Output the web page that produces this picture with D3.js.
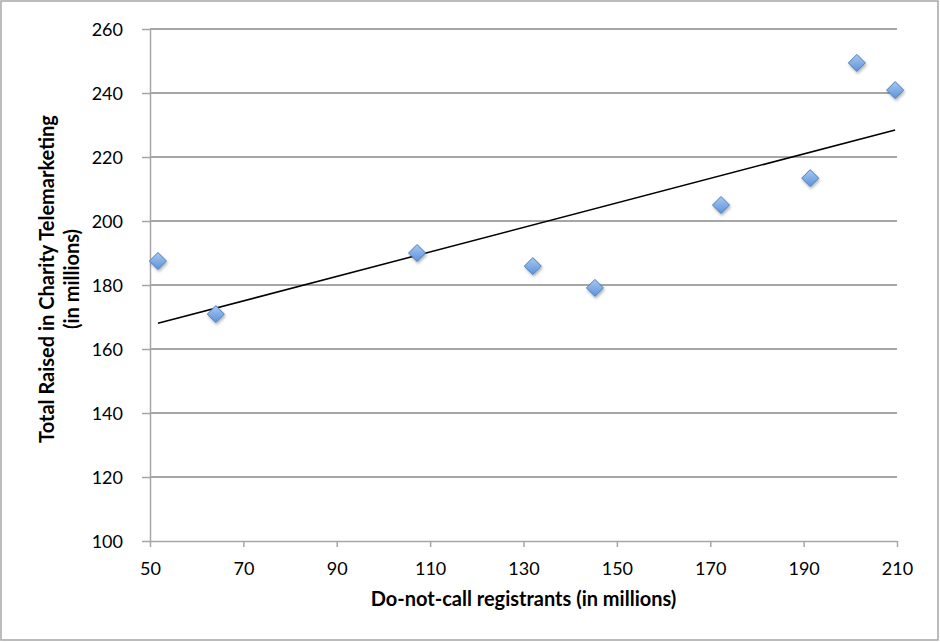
<!DOCTYPE html>
<html><head><meta charset="utf-8">
<script src="https://cdn.jsdelivr.net/npm/d3@7"></script>
<style>body{margin:0;background:#fff}svg{display:block;font-family:Lato,"Open Sans",sans-serif}</style>
</head><body><svg id="c" width="940" height="642"></svg>
<script>
const registrants = [51.7, 64.1, 107.2, 132.0, 145.3, 172.3, 191.4, 201.4, 209.6];
const raised = [187.5, 170.9, 190.0, 185.9, 179.1, 205.0, 213.4, 249.4, 240.9];
const xTicks = [50, 70, 90, 110, 130, 150, 170, 190, 210];
const yTicks = [100, 120, 140, 160, 180, 200, 220, 240, 260];
const xTitle = "Do-not-call registrants (in millions)";
const yTitle = ["Total Raised in Charity Telemarketing", "(in millions)"];

const svg = d3.select("#c");
const L = 150, R = 897, T = 29, B = 541;
const x = d3.scaleLinear().domain([50, 210]).range([L, R]);
const y = d3.scaleLinear().domain([100, 260]).range([B, T]);

svg.append("rect").attr("x",1).attr("y",1).attr("width",937).attr("height",639)
  .attr("fill","#fff").attr("stroke","#a6a6a6").attr("stroke-width",1.5);

const defs = svg.append("defs");
const g1 = defs.append("linearGradient").attr("id","dg").attr("x1","0").attr("y1","0").attr("x2","0").attr("y2","1");
g1.append("stop").attr("offset","0").attr("stop-color","#a9c8f0");
g1.append("stop").attr("offset","1").attr("stop-color","#5b93db");
const f = defs.append("filter").attr("id","sh").attr("x","-50%").attr("y","-50%").attr("width","200%").attr("height","200%");
f.append("feDropShadow").attr("dx",1).attr("dy",2).attr("stdDeviation",1.5).attr("flood-color","#000").attr("flood-opacity",0.3);

// gridlines
svg.append("g").selectAll("line").data(yTicks.filter(d=>d!==100)).join("line")
  .attr("x1",L).attr("x2",R).attr("y1",d=>y(d)).attr("y2",d=>y(d))
  .attr("stroke","#a6a6a6").attr("stroke-width",1.5).attr("shape-rendering","crispEdges");

const xa = svg.append("g").attr("transform",`translate(0,${B})`)
  .call(d3.axisBottom(x).tickValues(xTicks).tickSize(6).tickSizeOuter(0).tickPadding(15));
const ya = svg.append("g").attr("transform",`translate(${L},0)`)
  .call(d3.axisLeft(y).tickValues(yTicks).tickSize(8).tickSizeOuter(0).tickPadding(19));
[xa, ya].forEach(a=>{
  a.select(".domain").attr("stroke","#a6a6a6").attr("stroke-width",1.5);
  a.selectAll(".tick line").attr("stroke","#a6a6a6").attr("stroke-width",1.5);
  a.selectAll("text").attr("font-size",18).attr("fill","#000").attr("font-family","Lato,'Open Sans',sans-serif");
});
ya.selectAll("text").attr("dy","0.36em");

// trendline (least squares)
const n = registrants.length;
const mx = d3.mean(registrants), my = d3.mean(raised);
let sxy = 0, sxx = 0;
for (let i=0;i<n;i++){ sxy += (registrants[i]-mx)*(raised[i]-my); sxx += (registrants[i]-mx)**2; }
const slope = sxy/sxx, icpt = my - slope*mx;
const x0 = d3.min(registrants), x1 = d3.max(registrants);
svg.append("line").attr("x1",x(x0)).attr("y1",y(icpt+slope*x0)).attr("x2",x(x1)).attr("y2",y(icpt+slope*x1))
  .attr("stroke","#000").attr("stroke-width",1.5);

// markers
const s = 8.5;
svg.append("g").selectAll("path").data(registrants.map((v,i)=>[v,raised[i]])).join("path")
  .attr("d",d=>{const cx=x(d[0]), cy=y(d[1]); return `M${cx},${cy-s}L${cx+s},${cy}L${cx},${cy+s}L${cx-s},${cy}Z`;})
  .attr("fill","url(#dg)").attr("stroke","#4a7ebb").attr("stroke-width",1).attr("filter","url(#sh)");

svg.append("text").attr("x",(L+R)/2).attr("y",606).attr("text-anchor","middle")
  .attr("font-size",20).attr("font-weight","bold").text(xTitle);
const yt = svg.append("text").attr("transform",`translate(54,${(T+B)/2 - 6}) rotate(-90)`)
  .attr("text-anchor","middle").attr("font-size",20).attr("font-weight","bold");
yTitle.forEach((t,i)=>yt.append("tspan").attr("x",0).attr("dy",i?"1.25em":0).text(t));
</script></body></html>
